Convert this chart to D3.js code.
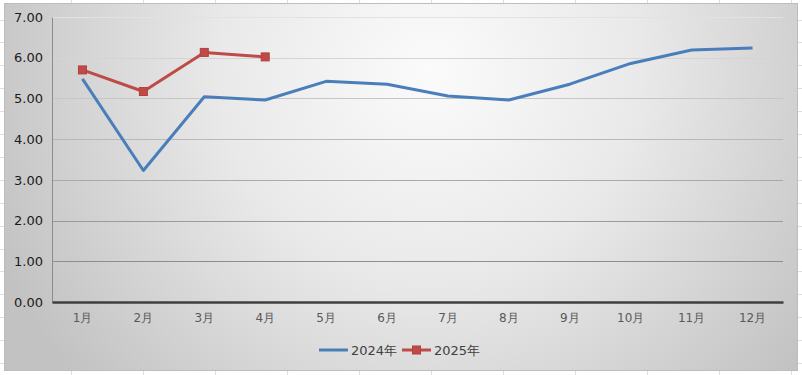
<!DOCTYPE html>
<meta charset="utf-8">
<head>
  <script src="https://d3js.org/d3.v7.min.js"></script>
  <style>
    body { margin: 0; background: #fff; }
    text { font-family: "DejaVu Sans", sans-serif; }
  </style>
</head>
<body>
<div id="chart"></div>
<script>
// data
var months = ["1月","2月","3月","4月","5月","6月","7月","8月","9月","10月","11月","12月"];
var values2024 = [5.48, 3.23, 5.04, 4.96, 5.42, 5.35, 5.06, 4.96, 5.35, 5.86, 6.19, 6.24];
var values2025 = [5.70, 5.17, 6.13, 6.02];
var yTicks = [0, 1, 2, 3, 4, 5, 6, 7];
var seriesNames = ["2024年", "2025年"];

var W = 802, H = 375;
var svg = d3.select("#chart").append("svg")
    .attr("width", W)
    .attr("height", H);

// spreadsheet cell lines behind the chart
var cells = svg.append("g").attr("stroke", "#dedede").attr("stroke-width", 1);
for (var cx = 71.5; cx < W; cx += 72) {
  cells.append("line").attr("x1", cx).attr("x2", cx).attr("y1", 0).attr("y2", H);
}
for (var cy = 19.5; cy < H; cy += 22.9) {
  cells.append("line").attr("x1", 0).attr("x2", W).attr("y1", Math.round(cy) + 0.5).attr("y2", Math.round(cy) + 0.5);
}

// chart area with radial gradient
var defs = svg.append("defs");
var grad = defs.append("radialGradient")
    .attr("id", "bg")
    .attr("gradientUnits", "userSpaceOnUse")
    .attr("cx", 430).attr("cy", 70).attr("r", 470);
grad.append("stop").attr("offset", "0").attr("stop-color", "#fbfbfb");
grad.append("stop").attr("offset", "0.45").attr("stop-color", "#e9e9e9");
grad.append("stop").attr("offset", "1").attr("stop-color", "#c2c2c2");

svg.append("rect")
    .attr("x", 4.5).attr("y", 3.5)
    .attr("width", 793).attr("height", 367)
    .attr("fill", "url(#bg)")
    .attr("stroke", "#bdbdbd");

var margin = {top: 17, right: 19, bottom: 73, left: 52};
var width = W - margin.left - margin.right,
    height = H - margin.top - margin.bottom;

var g = svg.append("g")
    .attr("transform", "translate(" + margin.left + "," + margin.top + ")");

var x = d3.scaleBand().domain(months).range([0, width]);
var y = d3.scaleLinear().domain([0, 7]).range([height, 0]);

// gridlines, lighter toward the top
var gridColor = d3.scaleLinear().domain([0, 7]).range(["#7f7f7f", "#e2e2e2"]);
g.selectAll(".grid")
  .data(yTicks.filter(function(d) { return d > 0; }))
  .enter().append("line")
    .attr("class", "grid")
    .attr("x1", 0).attr("x2", width)
    .attr("y1", function(d) { return Math.round(y(d)) + 0.5; })
    .attr("y2", function(d) { return Math.round(y(d)) + 0.5; })
    .attr("stroke", function(d) { return gridColor(d); })
    .attr("stroke-width", 1);

// y axis
var yAxis = g.append("g")
    .call(d3.axisLeft(y).tickValues(yTicks).tickFormat(d3.format(".2f")).tickSize(0).tickPadding(9));
yAxis.select(".domain").attr("stroke", "#8c8c8c");
yAxis.selectAll("text").attr("font-size", 13).attr("fill", "#1a1a1a")
    .attr("font-family", "DejaVu Sans, sans-serif");

// x axis
var xAxis = g.append("g")
    .attr("transform", "translate(0," + height + ")")
    .call(d3.axisBottom(x).tickSize(0).tickPadding(11));
xAxis.select(".domain").attr("stroke", "#3f3f3f").attr("stroke-width", 2.5);
xAxis.selectAll("text").attr("font-size", 12).attr("fill", "#595959")
    .attr("font-family", "DejaVu Sans, sans-serif");

var line = d3.line()
    .x(function(d, i) { return x(months[i]) + x.bandwidth() / 2; })
    .y(function(d) { return y(d); });

var blue = "#4a7ebb", red = "#be4b48";

g.append("path")
    .datum(values2024)
    .attr("fill", "none")
    .attr("stroke", blue)
    .attr("stroke-width", 3)
    .attr("stroke-linejoin", "round")
    .attr("d", line);

g.append("path")
    .datum(values2025)
    .attr("fill", "none")
    .attr("stroke", red)
    .attr("stroke-width", 3)
    .attr("stroke-linejoin", "round")
    .attr("d", line);

g.selectAll(".mk")
  .data(values2025)
  .enter().append("rect")
    .attr("class", "mk")
    .attr("x", function(d, i) { return x(months[i]) + x.bandwidth() / 2 - 4; })
    .attr("y", function(d) { return y(d) - 4; })
    .attr("width", 8).attr("height", 8)
    .attr("fill", red)
    .attr("stroke", "#b3403d")
    .attr("stroke-width", 1);

// legend
var legend = svg.append("g").attr("transform", "translate(319,350)");
legend.append("line").attr("x1", 0).attr("x2", 29).attr("y1", 0).attr("y2", 0)
    .attr("stroke", blue).attr("stroke-width", 3);
legend.append("text").attr("x", 32).attr("y", 5).attr("font-size", 13)
    .attr("fill", "#404040").text(seriesNames[0]);
legend.append("line").attr("x1", 83).attr("x2", 112).attr("y1", 0).attr("y2", 0)
    .attr("stroke", red).attr("stroke-width", 3);
legend.append("rect").attr("x", 93.5).attr("y", -4).attr("width", 8).attr("height", 8)
    .attr("fill", red).attr("stroke", "#b3403d");
legend.append("text").attr("x", 115).attr("y", 5).attr("font-size", 13)
    .attr("fill", "#404040").text(seriesNames[1]);
</script>
</body>
